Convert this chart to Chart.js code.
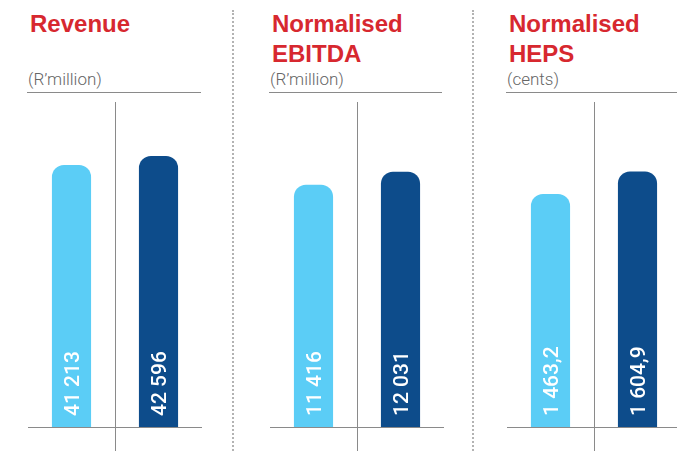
<!DOCTYPE html>
<html>
<head>
<meta charset="utf-8">
<script src="https://cdn.jsdelivr.net/npm/chart.js@4.4.0/dist/chart.umd.min.js"></script>
<style>
html, body { margin:0; padding:0; background:#fff; width:677px; height:451px; overflow:hidden; }
.ttl { position:absolute; top:9px; font:bold 24px/30px "Liberation Sans", Arial, sans-serif; color:#d7282f; white-space:nowrap; }
.unit { position:absolute; top:69px; font:300 17px/20px Roboto, sans-serif; color:#666; white-space:nowrap; }
.rule { position:absolute; top:92px; height:0; border-top:1px solid #8a8a8a; }
.sep { position:absolute; top:10px; bottom:0; border-left:2px dotted #b3b3b3; }
canvas { position:absolute; top:92px; }
</style>
</head>
<body>
<script>
// three small panels, each with its own scale
var titles   = [['Revenue'], ['Normalised', 'EBITDA'], ['Normalised', 'HEPS']];
var units    = ['(R’million)', '(R’million)', '(cents)'];
var periods  = ['Prior year', 'Current year'];
var revenue  = [41213, 42596];
var ebitda   = [11416, 12031];
var heps     = [1463.2, 1604.9];
var series   = [revenue, ebitda, heps];
var decimals = [0, 0, 1];
var axisMax  = [51100, 15320, 2041];

var barColors = ['#5bcdf6', '#0d4c8b'];
var panelX = [28, 270, 507];
var ruleX  = [[27, 174], [269, 173], [506, 175]];
var sepX   = [232, 472];

function fmt(v, d) {
  var s = v.toFixed(d).split('.');
  var ip = s[0].replace(/\B(?=(\d{3})+(?!\d))/g, ' ');
  return s.length > 1 ? ip + ',' + s[1] : ip;
}

var centreLine = {
  id: 'centreLine',
  beforeDatasetsDraw: function(chart) {
    var x = chart.scales.x;
    var cx = Math.round((x.getPixelForValue(0) + x.getPixelForValue(1)) / 2) + 0.5;
    var ctx = chart.ctx;
    ctx.save();
    ctx.strokeStyle = '#8a8a8a'; ctx.lineWidth = 1;
    ctx.beginPath(); ctx.moveTo(cx, chart.chartArea.top); ctx.lineTo(cx, chart.height); ctx.stroke();
    ctx.restore();
  }
};

var barText = {
  id: 'barText',
  afterDatasetsDraw: function(chart, args, opts) {
    var ctx = chart.ctx, meta = chart.getDatasetMeta(0), data = chart.data.datasets[0].data;
    ctx.save();
    ctx.fillStyle = '#fff';
    ctx.font = '500 21px Roboto, sans-serif';
    ctx.textAlign = 'left'; ctx.textBaseline = 'alphabetic';
    meta.data.forEach(function(bar, i) {
      ctx.save();
      ctx.translate(bar.x + 7.5, chart.chartArea.bottom - 11);
      ctx.rotate(-Math.PI / 2);
      ctx.fillText(fmt(data[i], opts.dec), 0, 0);
      ctx.restore();
    });
    ctx.restore();
  }
};

sepX.forEach(function(x) {
  var d = document.createElement('div'); d.className = 'sep'; d.style.left = x + 'px';
  document.body.appendChild(d);
});

series.forEach(function(vals, i) {
  var t = document.createElement('div'); t.className = 'ttl';
  t.style.left = (panelX[i] + 2) + 'px'; t.innerHTML = titles[i].join('<br>');
  document.body.appendChild(t);
  var u = document.createElement('div'); u.className = 'unit';
  u.style.left = panelX[i] + 'px'; u.textContent = units[i];
  document.body.appendChild(u);
  var r = document.createElement('div'); r.className = 'rule';
  r.style.left = ruleX[i][0] + 'px'; r.style.width = ruleX[i][1] + 'px';
  document.body.appendChild(r);

  var cv = document.createElement('canvas');
  cv.width = 174; cv.height = 359; cv.style.left = panelX[i] + 'px';
  document.body.appendChild(cv);
  new Chart(cv, {
    type: 'bar',
    data: { labels: periods, datasets: [{
      data: vals, backgroundColor: barColors, borderWidth: 0,
      borderRadius: { topLeft: 12, topRight: 12, bottomLeft: 0, bottomRight: 0 },
      barPercentage: 0.45, categoryPercentage: 1
    }]},
    options: {
      responsive: false, animation: false, devicePixelRatio: 1,
      layout: { padding: { top: 10, bottom: 24, left: 0, right: 0 } },
      plugins: { legend: { display: false }, tooltip: { enabled: false }, barText: { dec: decimals[i] } },
      scales: {
        x: { grid: { display: false, drawTicks: false }, ticks: { display: false },
             border: { display: true, color: '#8a8a8a', width: 1 } },
        y: { display: false, min: 0, max: axisMax[i] }
      }
    },
    plugins: [centreLine, barText]
  });
});
</script>
</body>
</html>
